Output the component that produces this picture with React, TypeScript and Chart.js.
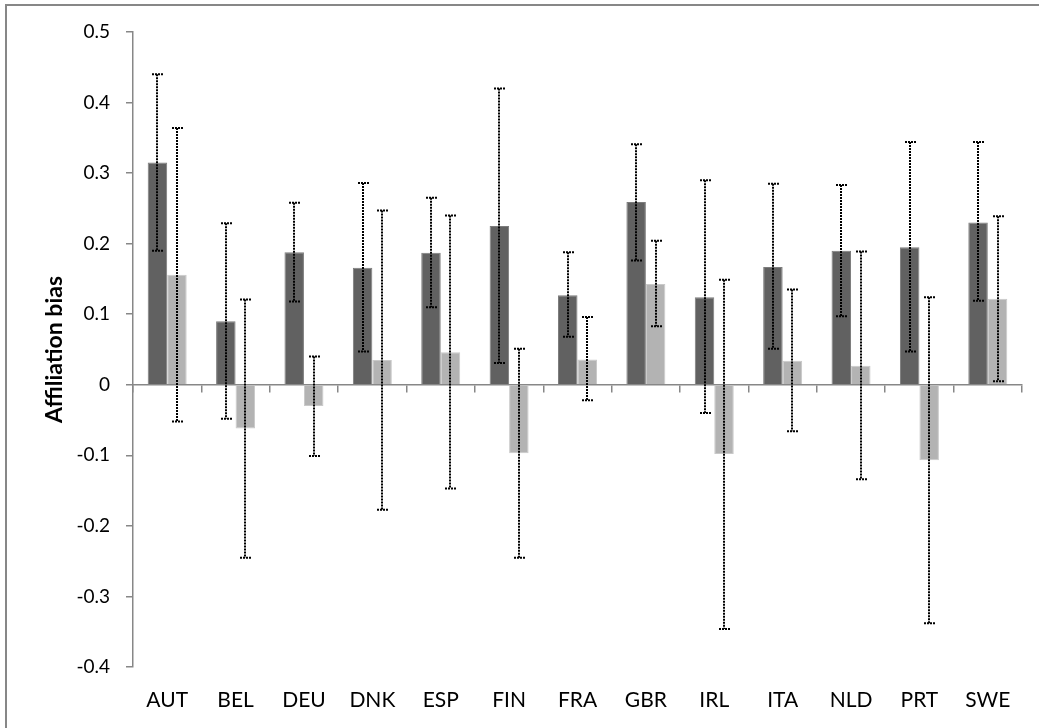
import React, { useEffect, useRef } from "react";
import { Chart, registerables } from "chart.js";

Chart.register(...registerables);

const categories = ["AUT", "BEL", "DEU", "DNK", "ESP", "FIN", "FRA", "GBR", "IRL", "ITA", "NLD", "PRT", "SWE"];

const seriesA = [0.315, 0.09, 0.188, 0.166, 0.187, 0.225, 0.127, 0.259, 0.124, 0.167, 0.19, 0.195, 0.23];
const seriesAHigh = [0.44, 0.229, 0.258, 0.286, 0.265, 0.42, 0.188, 0.341, 0.29, 0.285, 0.283, 0.344, 0.344];
const seriesALow = [0.19, -0.048, 0.118, 0.047, 0.11, 0.031, 0.068, 0.176, -0.04, 0.051, 0.097, 0.047, 0.119];

const seriesB = [0.156, -0.062, -0.03, 0.035, 0.046, -0.097, 0.036, 0.143, -0.098, 0.034, 0.027, -0.107, 0.122];
const seriesBHigh = [0.364, 0.121, 0.04, 0.247, 0.24, 0.051, 0.096, 0.204, 0.149, 0.135, 0.189, 0.124, 0.239];
const seriesBLow = [-0.052, -0.245, -0.101, -0.177, -0.147, -0.245, -0.022, 0.083, -0.346, -0.066, -0.134, -0.338, 0.005];

const yTicks = [-0.4, -0.3, -0.2, -0.1, 0, 0.1, 0.2, 0.3, 0.4, 0.5];

const AXIS_GRAY = "#878787";

const errorBarPlugin = {
  id: "errorBars",
  afterDatasetsDraw(chart: any) {
    const ctx = chart.ctx;
    const yScale = chart.scales.y;
    const lows = [seriesALow, seriesBLow];
    const highs = [seriesAHigh, seriesBHigh];
    ctx.save();
    ctx.strokeStyle = "#000000";
    ctx.lineWidth = 2;
    ctx.setLineDash([2, 1]);
    chart.data.datasets.forEach((_: any, i: number) => {
      const meta = chart.getDatasetMeta(i);
      meta.data.forEach((el: any, j: number) => {
        const x = Math.round(el.x);
        const yl = yScale.getPixelForValue(lows[i][j]);
        const yh = yScale.getPixelForValue(highs[i][j]);
        ctx.beginPath();
        ctx.moveTo(x, yh);
        ctx.lineTo(x, yl);
        ctx.stroke();
        ctx.beginPath();
        ctx.moveTo(x - 5, yh);
        ctx.lineTo(x + 6, yh);
        ctx.moveTo(x - 5, yl);
        ctx.lineTo(x + 6, yl);
        ctx.stroke();
      });
    });
    ctx.restore();
  },
};

export default function App() {
  const canvasRef = useRef<HTMLCanvasElement | null>(null);

  useEffect(() => {
    if (!canvasRef.current) return;
    const chart = new Chart(canvasRef.current, {
      type: "bar",
      data: {
        labels: categories,
        datasets: [
          {
            label: "A",
            data: seriesA,
            backgroundColor: "#616161",
            borderColor: "#7c7c7c",
            borderWidth: 1,
            categoryPercentage: 0.57,
            barPercentage: 1.0,
          },
          {
            label: "B",
            data: seriesB,
            backgroundColor: "#b3b3b3",
            borderColor: "#c9c9c9",
            borderWidth: 1,
            categoryPercentage: 0.57,
            barPercentage: 1.0,
          },
        ],
      },
      options: {
        responsive: false,
        animation: false,
        layout: { padding: { top: 32, right: 17, bottom: 0, left: 0 } },
        plugins: {
          legend: { display: false },
          tooltip: { enabled: false },
        },
        scales: {
          x: {
            type: "category",
            position: "bottom",
            offset: true,
            grid: { display: false, drawTicks: false, offset: true },
            border: { display: false },
            ticks: {
              padding: 21,
              color: "#000000",
              font: { family: "Lato", size: 21 },
              maxRotation: 0,
              autoSkip: false,
            },
            afterFit: (s: any) => {
              s.height = 61;
            },
          },
          x2: {
            type: "category",
            labels: categories,
            position: { y: 0 } as any,
            offset: true,
            grid: {
              display: true,
              drawOnChartArea: false,
              drawTicks: true,
              tickLength: 7,
              offset: true,
              color: AXIS_GRAY,
              lineWidth: 1.5,
            },
            border: { display: true, color: AXIS_GRAY, width: 1.5 },
            ticks: { display: false },
          },
          y: {
            type: "linear",
            min: -0.4,
            max: 0.5,
            afterBuildTicks: (s: any) => {
              s.ticks = yTicks.map((v) => ({ value: v }));
            },
            grid: {
              display: true,
              drawOnChartArea: false,
              drawTicks: true,
              tickLength: 7,
              color: AXIS_GRAY,
              lineWidth: 1.5,
            },
            border: { display: true, color: AXIS_GRAY, width: 1.5 },
            ticks: {
              padding: 16,
              color: "#000000",
              font: { family: "Lato", size: 19 },
              callback: (v: any) => String(Number(Number(v).toFixed(1))),
            },
            title: {
              display: true,
              text: "Affiliation bias",
              color: "#000000",
              font: { family: "Lato", size: 23, weight: "bold" },
              padding: { top: 41, bottom: 0 },
            },
            afterFit: (s: any) => {
              s.width = 133;
            },
          },
        },
      },
      plugins: [errorBarPlugin],
    });
    return () => chart.destroy();
  }, []);

  return (
    <div style={{ position: "absolute", left: 0, top: 0, width: 1039, height: 728, background: "#ffffff" }}>
      <div style={{ position: "absolute", left: 5, top: 4, width: 1034, height: 2, background: AXIS_GRAY }} />
      <div style={{ position: "absolute", left: 5, top: 4, width: 2, height: 724, background: AXIS_GRAY }} />
      <canvas ref={canvasRef} width={1039} height={728} style={{ position: "absolute", left: 0, top: 0 }} />
    </div>
  );
}
